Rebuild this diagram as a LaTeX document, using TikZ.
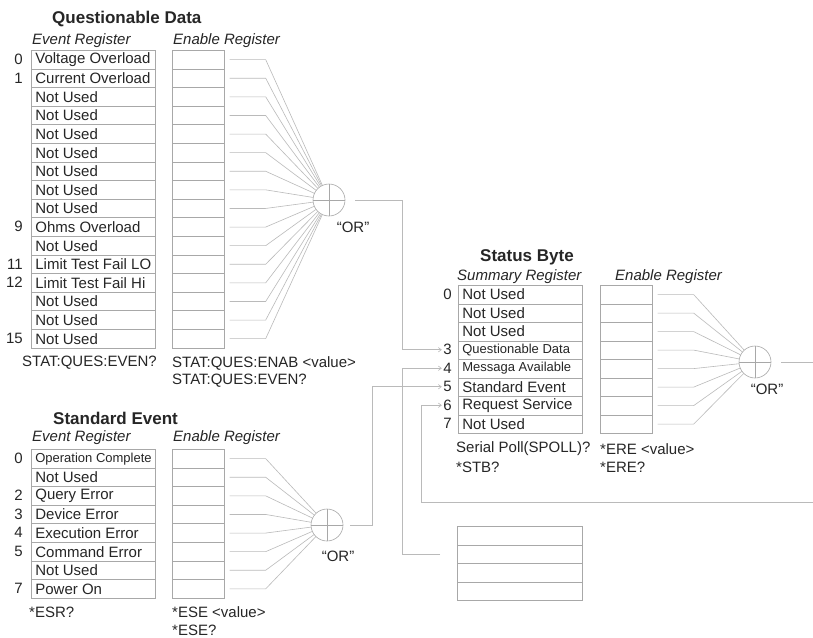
\documentclass[tikz,border=0pt]{standalone}
\usepackage{fontspec}
\setmainfont{Liberation Sans}
\usetikzlibrary{arrows.meta}
\definecolor{txt}{HTML}{262626}
\definecolor{boxc}{HTML}{A8A8A8}
\definecolor{wirec}{HTML}{BABABA}
\newcommand{\fsz}[1]{\fontsize{#1}{#1}\selectfont}
\tikzset{
  regbox/.style={draw=boxc, line width=0.7pt, anchor=north west, inner sep=0pt, minimum height=18.6pt, text=txt, font=\fsz{15}},
  evbox/.style={regbox, minimum width=124pt},
  enbox/.style={regbox, minimum width=52pt},
  num/.style={anchor=east, inner sep=0pt, text=txt, font=\fsz{15}},
  lbl/.style={anchor=west, inner sep=0pt, text=txt, font=\fsz{15}},
  ttl/.style={anchor=west, inner sep=0pt, text=txt, font=\fsz{17}\bfseries},
  sublbl/.style={anchor=west, inner sep=0pt, text=txt, font=\fsz{15}\itshape},
  orlbl/.style={inner sep=0pt, text=txt, font=\fsz{15}},
  wire/.style={draw=wirec, line width=0.6pt},
  orgate/.style={circle, draw=boxc, line width=0.6pt, minimum size=32pt, inner sep=0pt,
    path picture={\draw[boxc, line width=0.6pt] (path picture bounding box.north) -- (path picture bounding box.south) (path picture bounding box.west) -- (path picture bounding box.east);}},
  arrowtip/.style={-{Straight Barb[length=3pt,width=4.5pt]}, shorten >=1.5pt},
}
\begin{document}
\begin{tikzpicture}[x=1pt,y=-1pt]
\fill[white] (0,0) rectangle (813,637);
\useasboundingbox (0,0) rectangle (813,637);

% ---------------- Questionable Data ----------------
\node[ttl] (qtitle) at (52,19) {Questionable Data};
\node[sublbl] (qevl) at (32,41) {Event Register};
\node[sublbl] (qenl) at (173,41) {Enable Register};
\foreach \t [count=\i from 0] in {Voltage Overload, Current Overload, Not Used, Not Used, Not Used, Not Used, Not Used, Not Used, Not Used, Ohms Overload, Not Used, Limit Test Fail LO, Limit Test Fail Hi, Not Used, Not Used, Not Used}{
  \node[evbox] (qe\i) at (31,50+18.6*\i) {\makebox[116pt][l]{\t}};
  \node[enbox] (qn\i) at (172,50+18.6*\i) {};
}
\foreach \n in {0,1,9,11,12,15}{
  \node[num] (qnum\n) at (23,59.3+18.6*\n) {\n};
}
\node[orgate] (qor) at (329,200) {};
\foreach \i in {0,...,15}{
  \draw[wire] ([xshift=5pt]qn\i.east) -- ([xshift=41pt]qn\i.east) -- (qor);
}
\node[orlbl] (qorl) at (353,227) {“OR”};
\node[lbl] (qc1) at (22,363) {STAT:QUES:EVEN?};
\node[lbl] (qc2) at (172,363) {STAT:QUES:ENAB <value>};
\node[lbl] (qc3) at (172,381) {STAT:QUES:EVEN?};

% ---------------- Standard Event ----------------
\node[ttl] (stitle) at (53,418) {Standard Event};
\node[sublbl] (sevl) at (32,438) {Event Register};
\node[sublbl] (senl) at (173,438) {Enable Register};
\foreach \t [count=\i from 0] in {{\fsz{13}Operation Complete}, Not Used, Query Error, Device Error, Execution Error, Command Error, Not Used, Power On}{
  \node[evbox] (se\i) at (31,449+18.6*\i) {\makebox[116pt][l]{\t}};
  \node[enbox] (sn\i) at (172,449+18.6*\i) {};
}
\foreach \n in {0,2,3,4,5,7}{
  \node[num] (sen\n) at (23,458.3+18.6*\n) {\n};
}
\node[orgate] (sor) at (327,525) {};
\foreach \i in {0,...,7}{
  \draw[wire] ([xshift=5pt]sn\i.east) -- ([xshift=41pt]sn\i.east) -- (sor);
}
\node[orlbl] (sorl) at (338,556) {“OR”};
\node[lbl] (sc1) at (29,612) {*ESR?};
\node[lbl] (sc2) at (172,612) {*ESE <value>};
\node[lbl] (sc3) at (172,630) {*ESE?};

% ---------------- Status Byte ----------------
\node[ttl] (btitle) at (480,257) {Status Byte};
\node[sublbl] (bsum) at (457,277) {Summary Register};
\node[sublbl] (benl) at (615,277) {Enable Register};
\foreach \t [count=\i from 0] in {Not Used, Not Used, Not Used, {\fsz{13}Questionable Data}, {\fsz{13}Messaga Available}, Standard Event, Request Service, Not Used}{
  \node[evbox, minimum height=18.5pt] (be\i) at (458,285+18.5*\i) {\makebox[116pt][l]{\t}};
  \node[enbox, minimum height=18.5pt] (bn\i) at (600,285+18.5*\i) {};
}
\foreach \n in {0,3,4,5,6,7}{
  \node[num] (snum\n) at (452,294.25+18.5*\n) {\n};
}
\node[orgate] (bor) at (755,362) {};
\foreach \i in {0,...,7}{
  \draw[wire] ([xshift=5pt]bn\i.east) -- ([xshift=41pt]bn\i.east) -- (bor);
}
\node[orlbl] (borl) at (767,389) {“OR”};
\node[lbl] (bc1) at (456,449) {Serial Poll(SPOLL)?};
\node[lbl] (bc2) at (600,449) {*ERE <value>};
\node[lbl] (bc3) at (456,467) {*STB?};
\node[lbl] (bc4) at (600,467) {*ERE?};

% ---------------- Output queue ----------------
\foreach \i in {0,...,3}{
  \node[evbox, minimum width=125pt, minimum height=18.5pt] (mq\i) at (457,526+18.5*\i) {};
}

% ---------------- Connectors ----------------
\coordinate (xq) at (402,0);
\coordinate (xs) at (372,0);
\coordinate (xr) at (421,0);
\coordinate (rin) at (813,502);
\coordinate (bout) at (813,0);
\draw[wire,arrowtip] ([xshift=10pt]qor.east) -| (xq |- snum3.west) -- (snum3.west);
\draw[wire,arrowtip] ([xshift=-17pt]mq1.west) -| (xq |- snum4.west) -- (snum4.west);
\draw[wire,arrowtip] ([xshift=7pt]sor.east) -| (xs |- snum5.west) -- (snum5.west);
\draw[wire,arrowtip] (rin) -| (xr |- snum6.west) -- (snum6.west);
\draw[wire] ([xshift=10pt]bor.east) -- (bor.east -| bout);
\end{tikzpicture}
\end{document}
